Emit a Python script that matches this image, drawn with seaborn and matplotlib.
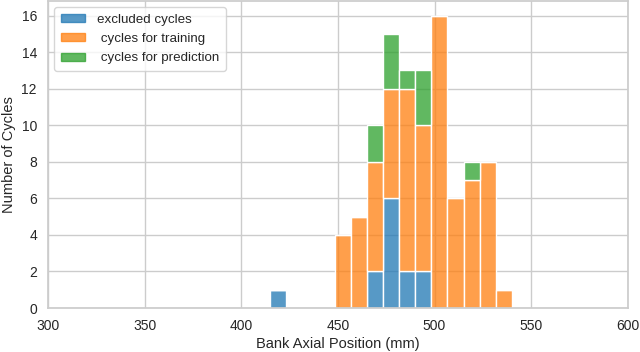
import numpy as np
import pandas as pd
import matplotlib
matplotlib.use("Agg")
import matplotlib.pyplot as plt
import seaborn as sns

# bin layout (15 bins of ~8.33 mm between 415 and 540)
bin_lo, bin_hi, n_bins = 415, 540, 15
bin_width = (bin_hi - bin_lo) / n_bins
bin_centers = [bin_lo + bin_width * (i + 0.5) for i in range(n_bins)]

groups = ["excluded cycles", " cycles for training", " cycles for prediction"]
excluded = [1, 0, 0, 0, 0, 0, 2, 6, 2, 2, 0, 0, 0, 0, 0]
training = [0, 0, 0, 0, 4, 5, 6, 6, 10, 8, 16, 6, 7, 8, 1]
prediction = [0, 0, 0, 0, 0, 0, 2, 3, 1, 3, 0, 0, 1, 0, 0]

rows = []
for g, counts in zip(groups, [excluded, training, prediction]):
    for c, n in zip(bin_centers, counts):
        rows.append({"position": c, "group": g, "count": n})
df = pd.DataFrame(rows)

sns.set_theme(style="whitegrid")
plt.rcParams["font.family"] = ["Liberation Sans", "DejaVu Sans"]

fig, ax = plt.subplots(figsize=(6.4, 3.52), dpi=100)
palette = dict(zip(groups, sns.color_palette("tab10", 3)))
sns.histplot(data=df, x="position", hue="group", weights="count",
             hue_order=groups[::-1], binwidth=bin_width, binrange=(bin_lo, bin_hi),
             multiple="stack", palette=palette, edgecolor="white", linewidth=1,
             alpha=0.75, ax=ax)

ax.set_xlim(300, 600)
ax.set_ylim(0, 16.8)
ax.set_yticks(range(0, 17, 2))
ax.set_xlabel("Bank Axial Position (mm)", fontsize=10.5, labelpad=3)
ax.set_ylabel("Number of Cycles", fontsize=10.5)
ax.tick_params(labelsize=10, pad=2)

# legend in original order
handles = [plt.Rectangle((0, 0), 1, 1, color=palette[g], alpha=0.75) for g in groups]
ax.legend(handles, groups, loc="upper left", fontsize=9.6, frameon=True,
          handleheight=0.55, handlelength=1.8, handletextpad=0.9,
          labelspacing=0.55, borderpad=0.5, borderaxespad=0.45)

plt.subplots_adjust(left=0.075, right=0.981, top=0.997, bottom=0.125)
plt.savefig("out.png", dpi=100)
